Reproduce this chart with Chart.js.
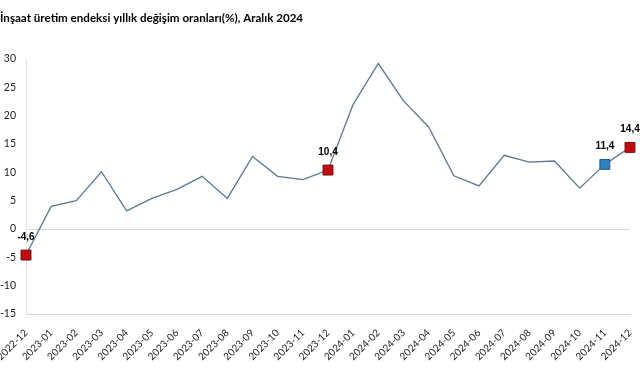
<!DOCTYPE html>
<html>
<head>
<meta charset="utf-8">
<script src="https://cdn.jsdelivr.net/npm/chart.js@4/dist/chart.umd.min.js"></script>
<style>
  html, body { margin: 0; padding: 0; background: #fff; }
  #wrap { width: 641px; height: 380px; position: relative; }
</style>
</head>
<body>
<div id="wrap"><canvas id="c" width="641" height="380"></canvas></div>
<script>
const titleText = "İnşaat üretim endeksi yıllık değişim oranları(%), Aralık 2024";
const categories = ["2022-12","2023-01","2023-02","2023-03","2023-04","2023-05","2023-06","2023-07","2023-08","2023-09","2023-10","2023-11","2023-12","2024-01","2024-02","2024-03","2024-04","2024-05","2024-06","2024-07","2024-08","2024-09","2024-10","2024-11","2024-12"];
const values = [-4.6, 4.0, 5.0, 10.1, 3.2, 5.4, 7.0, 9.3, 5.4, 12.8, 9.3, 8.7, 10.4, 22.0, 29.2, 22.6, 18.0, 9.4, 7.6, 13.0, 11.8, 12.0, 7.2, 11.4, 14.4];
const redMarkers = ["2022-12", "2023-12", "2024-12"];
const blueMarkers = ["2024-11"];
const labelledPoints = ["2022-12", "2023-12", "2024-11", "2024-12"];
const yTicks = [-15, -10, -5, 0, 5, 10, 15, 20, 25, 30];

const RED = '#c00d12', RED_BORDER = '#7a0a0a';
const BLUE = '#2f7fc1', BLUE_BORDER = '#1f5a8a';

const radii = categories.map(c => (redMarkers.includes(c) || blueMarkers.includes(c)) ? 7 : 0);
const fills = categories.map(c => blueMarkers.includes(c) ? BLUE : RED);
const borders = categories.map(c => blueMarkers.includes(c) ? BLUE_BORDER : RED_BORDER);

const fmt = v => v.toFixed(1).replace('.', ',');

const extras = {
  id: 'extras',
  afterDatasetsDraw(chart) {
    const ctx = chart.ctx;
    const meta = chart.getDatasetMeta(0);
    ctx.save();
    ctx.font = 'bold 10px "Liberation Sans", Arial, sans-serif';
    ctx.fillStyle = '#000';
    ctx.textAlign = 'center';
    ctx.textBaseline = 'middle';
    labelledPoints.forEach(c => {
      const i = categories.indexOf(c);
      const p = meta.data[i];
      ctx.fillText(fmt(values[i]), p.x, p.y - 18);
    });
    ctx.restore();
  },
  afterDraw(chart) {
    const ctx = chart.ctx;
    ctx.save();
    ctx.font = 'bold 11.6px Lato, sans-serif';
    ctx.fillStyle = '#000';
    ctx.textAlign = 'left';
    ctx.textBaseline = 'alphabetic';
    ctx.fillText(titleText, 0, 22);
    ctx.restore();
  }
};

new Chart(document.getElementById('c'), {
  type: 'line',
  data: {
    labels: categories,
    datasets: [{
      data: values,
      borderColor: '#5b7890',
      borderWidth: 1.3,
      tension: 0,
      pointStyle: 'rect',
      pointRadius: radii,
      pointHoverRadius: radii,
      pointBackgroundColor: fills,
      pointBorderColor: borders,
      pointBorderWidth: 1
    }]
  },
  options: {
    responsive: false,
    animation: false,
    devicePixelRatio: 1,
    layout: { padding: { top: 59, right: 11, left: 0, bottom: 0 } },
    plugins: { legend: { display: false }, title: { display: false }, tooltip: { enabled: false } },
    scales: {
      x: {
        offset: false,
        grid: { display: false },
        border: { display: true, color: '#d9d9d9', width: 1 },
        ticks: {
          autoSkip: false, maxRotation: 45, minRotation: 45, padding: 5,
          color: '#222', font: { family: 'Lato, sans-serif', size: 10 }
        },
        afterFit(scale) { scale.height = 66; scale.paddingLeft = 0; scale.paddingRight = 0; }
      },
      y: {
        min: -15, max: 30,
        afterBuildTicks(scale) { scale.ticks = yTicks.map(v => ({ value: v })); },
        grid: {
          drawTicks: false,
          color: c => (c.tick && c.tick.value === 0) ? '#d9d9d9' : 'rgba(0,0,0,0)',
          lineWidth: 1
        },
        border: { display: true, color: '#e3e3e3', width: 1 },
        ticks: {
          padding: 10,
          color: '#222', font: { family: 'Lato, sans-serif', size: 10.5 },
          callback: v => String(v)
        },
        afterFit(scale) { scale.width = 26; scale.paddingTop = 0; scale.paddingBottom = 0; }
      }
    }
  },
  plugins: [extras]
});
</script>
</body>
</html>
